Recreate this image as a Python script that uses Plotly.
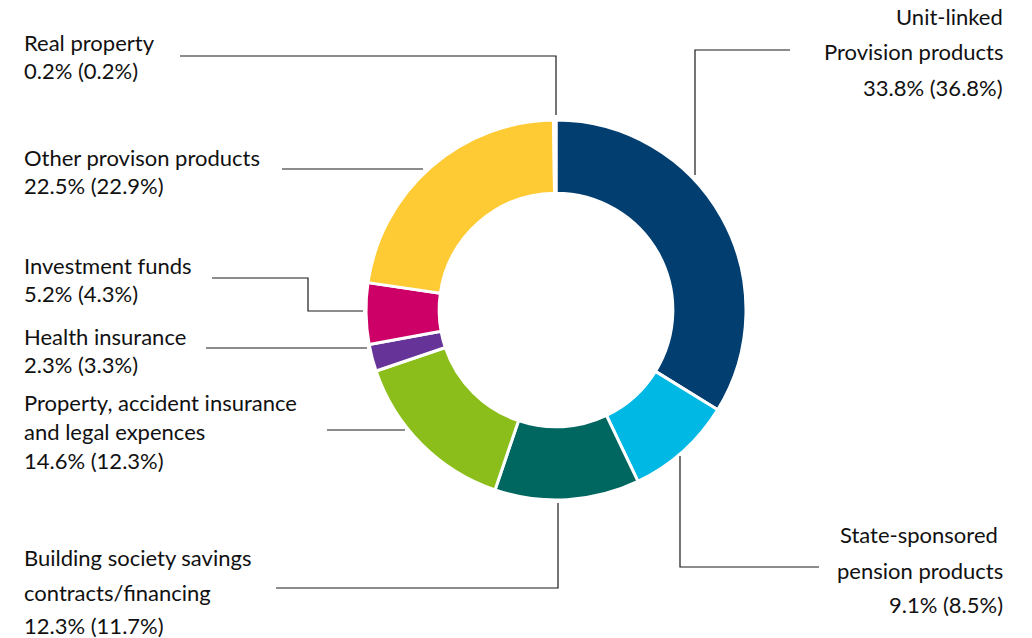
import plotly.graph_objects as go

# ---- data ----
categories = [
    "Unit-linked Provision products",
    "State-sponsored pension products",
    "Building society savings contracts/financing",
    "Property, accident insurance and legal expences",
    "Health insurance",
    "Investment funds",
    "Other provison products",
    "Real property",
]
values = [33.8, 9.1, 12.3, 14.6, 2.3, 5.2, 22.5, 0.2]
prior_values = [36.8, 8.5, 11.7, 12.3, 3.3, 4.3, 22.9, 0.2]
label_lines = [
    ["Unit-linked", "Provision products"],
    ["State-sponsored ", "pension products"],
    ["Building society savings", "contracts/financing"],
    ["Property, accident insurance", "and legal expences"],
    ["Health insurance"],
    ["Investment funds"],
    ["Other provison products"],
    ["Real property"],
]
colors = ["#023E6F", "#00B8E4", "#006760", "#8BBE1A", "#663399",
          "#CC0066", "#FFCB34", "#FFFFFF"]

W, H = 1032, 638
FONT = "Lato"
FS = 22
TXT = "#111111"
LINE = "#1a1a1a"


def px(x):
    return x / W


def py(y):
    return 1 - y / H


fig = go.Figure()
fig.add_trace(go.Pie(
    labels=categories,
    values=values,
    sort=False,
    direction="clockwise",
    rotation=0,
    hole=0.615,
    marker=dict(colors=colors, line=dict(color="white", width=3)),
    textinfo="none",
    hoverinfo="label+percent",
    showlegend=False,
    domain=dict(x=[px(366), px(746)], y=[py(500), py(120)]),
))

# ---- label layout (pixel positions of text blocks) ----
# (x, anchor, [line centre y's])
layout_pos = [
    (1005, "right", [17, 52, 87]),
    (1005, "right", [534, 570, 604]),
    (22, "left", [557, 592, 625]),
    (22, "left", [402, 431, 460]),
    (22, "left", [336, 364]),
    (22, "left", [265, 293]),
    (22, "left", [157, 185]),
    (22, "left", [42, 70]),
]

annotations = []
for i, (x, anchor, ys) in enumerate(layout_pos):
    lines = label_lines[i] + [f"{values[i]:.1f}% ({prior_values[i]:.1f}%)"]
    for text, y in zip(lines, ys):
        annotations.append(dict(
            x=px(x), y=py(y), xref="paper", yref="paper",
            text=text, showarrow=False, xanchor=anchor, yanchor="middle",
            font=dict(family=FONT, size=FS, color=TXT),
        ))

# ---- leader lines (pixel paths) ----
leaders = [
    [(790, 50), (695, 50), (695, 175)],
    [(680, 456), (680, 567), (819, 567)],
    [(558, 503), (558, 588), (276, 588)],
    [(405, 430), (327, 430)],
    [(367, 348), (206, 348)],
    [(363, 311), (308, 311), (308, 278), (212, 278)],
    [(423, 169), (282, 169)],
    [(556, 115), (556, 56), (180, 56)],
]
shapes = []
for pts in leaders:
    path = "M " + " L ".join(f"{px(a):.5f},{py(b):.5f}" for a, b in pts)
    shapes.append(dict(type="path", path=path, xref="paper", yref="paper",
                       line=dict(color=LINE, width=1.2)))

fig.update_layout(
    width=W, height=H,
    margin=dict(l=0, r=0, t=0, b=0),
    paper_bgcolor="white",
    plot_bgcolor="white",
    annotations=annotations,
    shapes=shapes,
    font=dict(family=FONT, size=FS, color=TXT),
)

fig.write_html(
    "out.html",
    config={"displayModeBar": False},
    post_script="document.body.style.margin='0px';document.body.style.overflow='hidden';",
)
